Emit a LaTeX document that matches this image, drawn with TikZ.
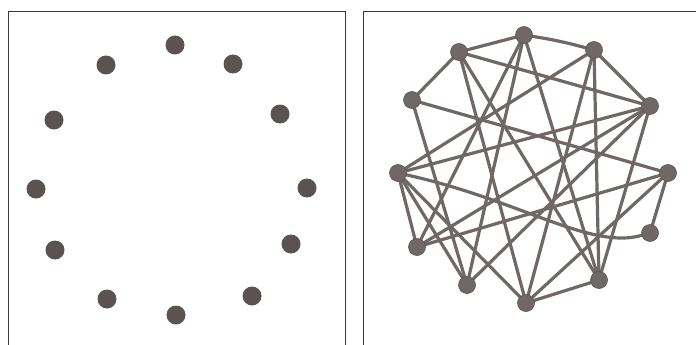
\documentclass[tikz,border=0pt]{standalone}
\usepackage{tikz}
\usepackage{xcolor}
\usetikzlibrary{positioning,backgrounds}
\definecolor{dotgrey}{HTML}{5A5351}
\definecolor{edgegrey}{HTML}{6F6866}
\definecolor{framegrey}{HTML}{3A3A3A}
\tikzset{
  dot/.style   ={circle, fill=dotgrey, inner sep=0pt, minimum size=19pt},
  vtx/.style   ={circle, fill=edgegrey, draw=dotgrey, line width=0.6pt,
                 inner sep=0pt, minimum size=17pt},
  link/.style  ={draw=edgegrey, line width=3.2pt, line cap=round},
  panel/.style ={draw=framegrey, line width=0.8pt},
}
\begin{document}
\begin{tikzpicture}[x=1pt, y=-1pt]
\useasboundingbox (0,0) rectangle (696,345);

% ------------------------------------------------------------- frames
\draw[panel] (8,360) |- (345,11) -- (345,360);
\draw[panel] (363,360) |- (710,11);

% ------------------------------------------------------------- left: ring
\foreach \n/\x/\y in {
    1/175/45, 2/233/64, 3/280/114, 4/307/188, 5/291/244, 6/252/296,
    7/176/315, 8/107/299, 9/55/250, 10/36/189, 11/54/120, 12/106/65} {
  \node[dot] (l\n) at (\x,\y) {};
}

% ------------------------------------------------------------- right: graph
\foreach \n/\x/\y in {
    a/524/35, b/459/52, c/594/50, d/412/100, e/650/106, f/398/173,
    g/668/173, h/417/247, i/650/233, j/467/285, k/599/280, l/526/303} {
  \node[vtx] (\n) at (\x,\y) {};
}

\begin{scope}[on background layer]
\foreach \p/\q in {
    a/b, a/h, a/j, a/k, b/d, b/e, b/l, b/k, c/e, c/f, c/k, c/l,
    d/g, d/j, e/f, e/h, e/j, e/k, f/h, f/j, f/l, g/i, g/l, h/g, k/l} {
  \draw[link] (\p) -- (\q);
}
% the two hand-bent strokes
\draw[link] (a) to[bend left=3] (c);
\draw[link] (f) .. controls (520,200) and (590,250) .. (i);
\end{scope}

\end{tikzpicture}
\end{document}
